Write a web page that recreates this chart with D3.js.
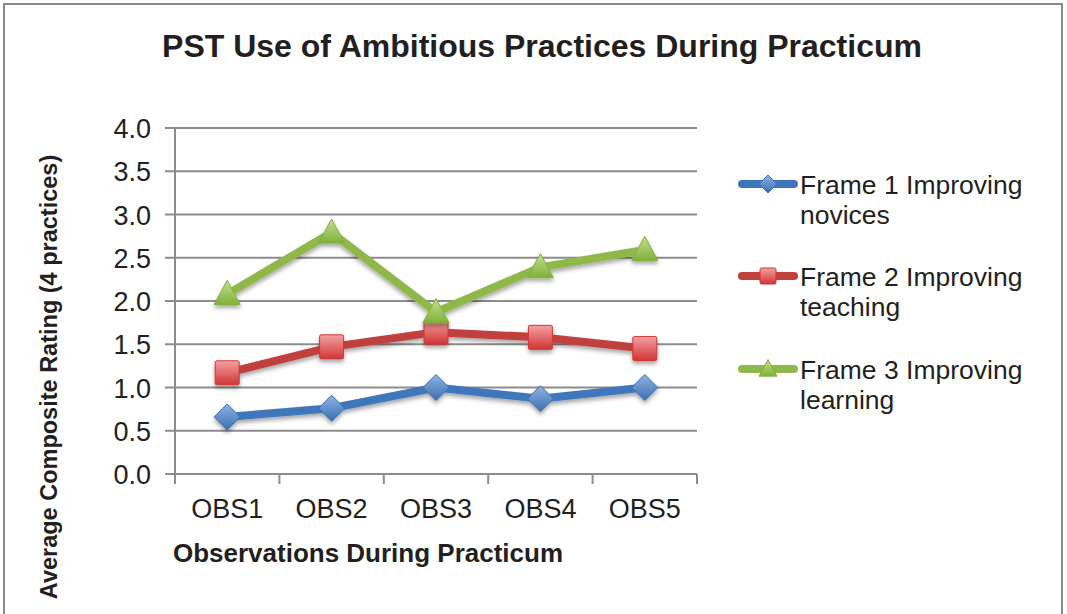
<!DOCTYPE html>
<html><head><meta charset="utf-8">
<script src="https://cdn.jsdelivr.net/npm/d3@7"></script>
<style>body{margin:0;background:#fff}svg{display:block}text{font-family:"Liberation Sans",Arial,sans-serif;fill:#231f20}</style>
</head><body><svg id="c" width="1067" height="614"></svg>
<script>
const categories = ["OBS1","OBS2","OBS3","OBS4","OBS5"];
const frame1 = [0.66,0.76,1.0,0.87,1.0];
const frame2 = [1.17,1.47,1.64,1.58,1.45];
const frame3 = [2.08,2.79,1.87,2.39,2.59];
const seriesNames = [["Frame 1 Improving","novices"],["Frame 2 Improving","teaching"],["Frame 3 Improving","learning"]];
const yTicks = [0,0.5,1,1.5,2,2.5,3,3.5,4];
const title = "PST Use of Ambitious Practices During Practicum";
const xTitle = "Observations During Practicum";
const yTitle = "Average Composite Rating (4 practices)";

const series = [
  {name:seriesNames[0], values:frame1, line:"#3f76bb", light:"#8eb4e3", dark:"#3a6fb0", shape:"diamond"},
  {name:seriesNames[1], values:frame2, line:"#c0403c", light:"#f4a0a0", dark:"#d03535", shape:"square"},
  {name:seriesNames[2], values:frame3, line:"#8fb84a", light:"#c5e08e", dark:"#80b03a", shape:"triangle"}
];

const svg = d3.select("#c");
const defs = svg.append("defs");
const f = defs.append("filter").attr("id","sh").attr("x","-30%").attr("y","-30%").attr("width","160%").attr("height","180%");
f.append("feDropShadow").attr("dx",0).attr("dy",3).attr("stdDeviation",2).attr("flood-color","#000").attr("flood-opacity",0.35);
series.forEach((s,i)=>{
  const g = defs.append("linearGradient").attr("id","g"+i).attr("x1",0).attr("y1",0).attr("x2",0).attr("y2",1);
  g.append("stop").attr("offset","0%").attr("stop-color",s.light);
  g.append("stop").attr("offset","100%").attr("stop-color",s.dark);
});

// border
svg.append("rect").attr("x",4).attr("y",4).attr("width",1058).attr("height",620)
  .attr("fill","none").attr("stroke","#8a8a8a").attr("stroke-width",2);

const L=175,R=697,T=128,B=474;
const x = d3.scaleBand().domain(categories).range([L,R]);
const y = d3.scaleLinear().domain([0,4]).range([B,T]);

// gridlines
svg.append("g").selectAll("line").data(yTicks).join("line")
  .attr("x1",165).attr("x2",R).attr("y1",d=>y(d)).attr("y2",d=>y(d))
  .attr("stroke","#8c8c8c").attr("stroke-width",2);
// y axis line
svg.append("line").attr("x1",L).attr("x2",L).attr("y1",T).attr("y2",B).attr("stroke","#8c8c8c").attr("stroke-width",2);
// x tick marks
const xb = categories.map(c=>x(c)).concat([R]);
svg.append("g").selectAll("line").data(xb).join("line")
  .attr("x1",d=>d).attr("x2",d=>d).attr("y1",B).attr("y2",B+10).attr("stroke","#8c8c8c").attr("stroke-width",2);

// y labels
svg.append("g").selectAll("text").data(yTicks).join("text")
  .attr("x",151).attr("y",d=>y(d)+10).attr("text-anchor","end").attr("font-size",27)
  .text(d=>d.toFixed(1));
// x labels
svg.append("g").selectAll("text").data(categories).join("text")
  .attr("x",d=>x(d)+x.bandwidth()/2).attr("y",518).attr("text-anchor","middle").attr("font-size",27)
  .text(d=>d);

// titles
svg.append("text").attr("x",542).attr("y",57).attr("text-anchor","middle").attr("font-size",32).attr("font-weight","bold").text(title);
svg.append("text").attr("x",368).attr("y",562).attr("text-anchor","middle").attr("font-size",26).attr("font-weight","bold").text(xTitle);
svg.append("text").attr("transform","translate(57,377) rotate(-90)").attr("text-anchor","middle").attr("font-size",23.5).attr("font-weight","bold").text(yTitle);

function marker(sel, shape, size){
  if(shape==="diamond"){ const r=size/2; sel.append("path").attr("d",`M0,${-r}L${r},0L0,${r}L${-r},0Z`); }
  else if(shape==="square"){ const r=size/2; sel.append("rect").attr("x",-r).attr("y",-r).attr("width",size).attr("height",size).attr("rx",1.5); }
  else { const r=size/2; sel.append("path").attr("d",`M0,${-r*1.05}L${r},${r*0.8}L${-r},${r*0.8}Z`); }
}

const line = d3.line().x((d,i)=>x(categories[i])+x.bandwidth()/2).y(d=>y(d));
series.forEach((s,i)=>{
  const g = svg.append("g").attr("filter","url(#sh)");
  g.append("path").attr("d",line(s.values)).attr("fill","none").attr("stroke",s.line).attr("stroke-width",8).attr("stroke-linejoin","miter");
  s.values.forEach((v,j)=>{
    const m = g.append("g").attr("transform",`translate(${x(categories[j])+x.bandwidth()/2},${y(v)})`)
      .attr("fill",`url(#g${i})`).attr("stroke",s.dark).attr("stroke-width",1);
    marker(m, s.shape, s.shape==="square"?24:26);
  });
});

// legend
const ly=[184,276,369];
series.forEach((s,i)=>{
  const g = svg.append("g");
  g.append("line").attr("x1",742).attr("x2",794).attr("y1",ly[i]).attr("y2",ly[i]).attr("stroke",s.line).attr("stroke-width",8).attr("stroke-linecap","round");
  const m = g.append("g").attr("transform",`translate(768,${ly[i]})`).attr("fill",`url(#g${i})`).attr("stroke",s.dark).attr("stroke-width",1);
  marker(m, s.shape, s.shape==="square"?16:18);
  const t = g.append("text").attr("x",800).attr("y",ly[i]+10).attr("font-size",26.5);
  t.append("tspan").attr("x",800).text(s.name[0]);
  t.append("tspan").attr("x",800).attr("dy",30).text(s.name[1]);
});
</script></body></html>
